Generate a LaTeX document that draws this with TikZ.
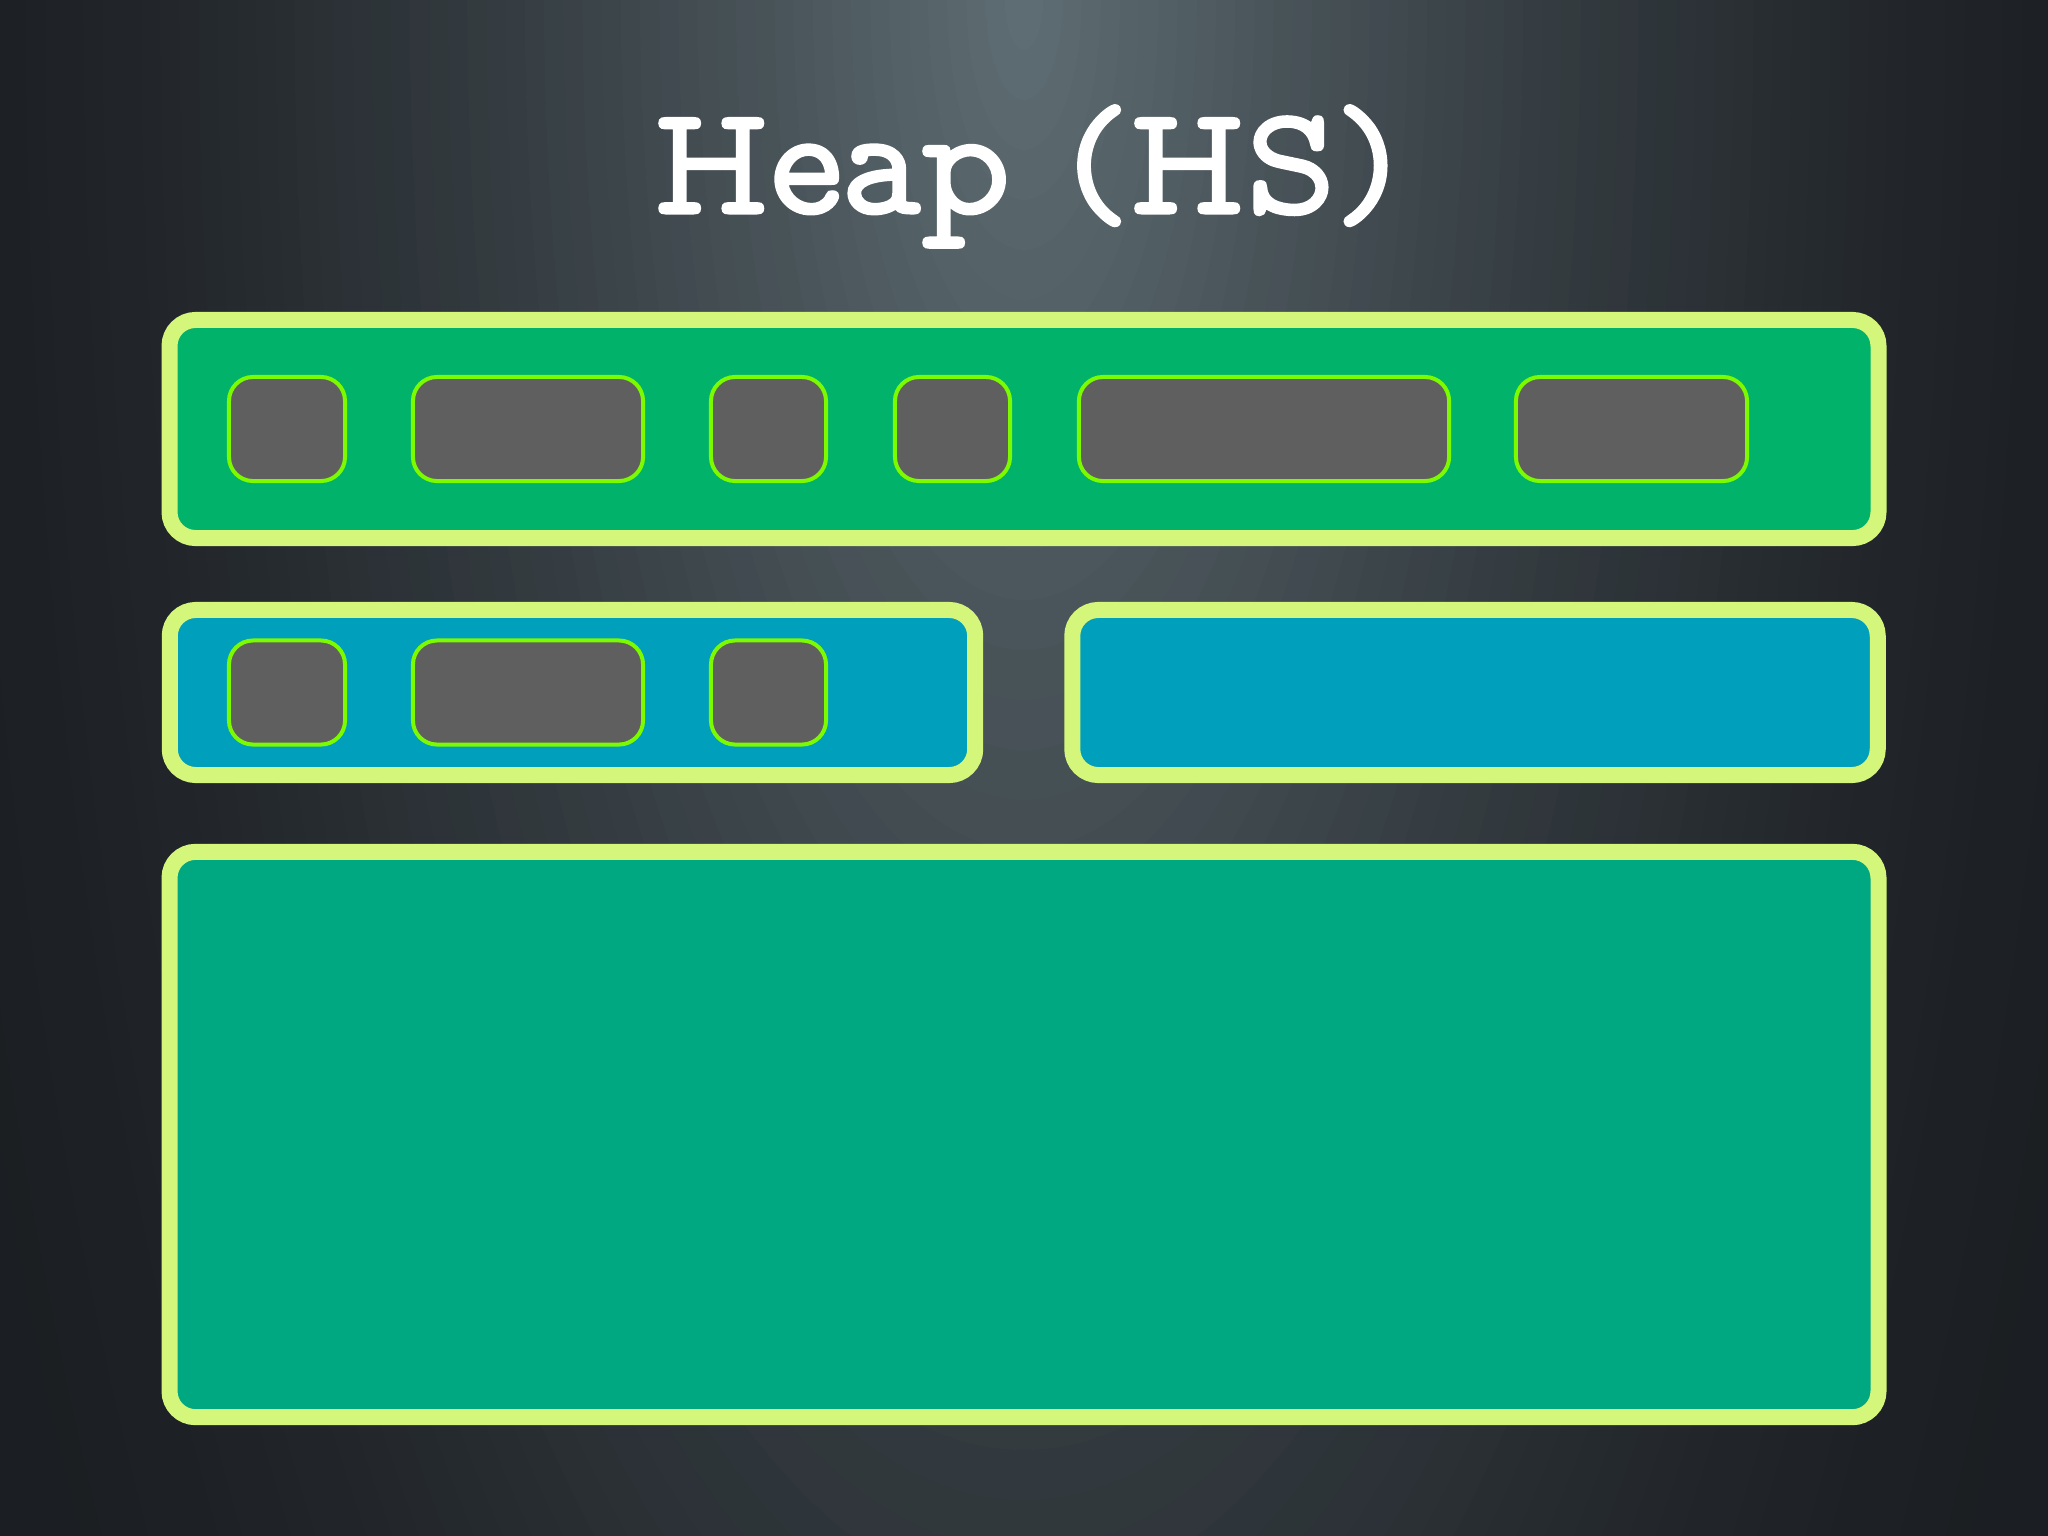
\documentclass[tikz,border=0pt]{standalone}
\usepackage{fontspec}
\usepackage{tikz}
\newfontfamily\headfont{lmmonoprop10-regular.otf}[FakeBold=2]
\definecolor{glow_a}{RGB}{95,110,116}
\definecolor{glow_f}{RGB}{27,30,34}
\definecolor{edge_lime}{RGB}{212,246,122}
\definecolor{edge_green}{RGB}{124,250,0}
\definecolor{node_green}{RGB}{0,178,106}
\definecolor{node_blue}{RGB}{0,159,187}
\definecolor{node_teal}{RGB}{0,168,130}
\definecolor{node_gray}{RGB}{95,95,95}

\begin{document}
\begin{tikzpicture}[x=0.01cm,y=-0.01cm]
    \tikzstyle{space}=[draw=edge_lime, line width=0.16cm, rounded corners=0.26cm, inner sep=0pt, minimum width=17.08cm]
    \tikzstyle{young}=[style=space, fill=node_green, minimum height=2.18cm]
    \tikzstyle{surv}=[style=space, fill=node_blue, minimum width=8.05cm, minimum height=1.65cm]
    \tikzstyle{old}=[style=space, fill=node_teal, minimum height=5.65cm]
    \tikzstyle{obj}=[draw=edge_green, line width=0.04cm, rounded corners=0.24cm, fill=node_gray, inner sep=0pt, minimum height=1.04cm]

    % background glow
    \useasboundingbox (0,0) rectangle (2048,1536);
    \fill[glow_f] (0,0) rectangle (2048,1536);
    \begin{scope}
      \clip (0,0) rectangle (2048,1536);
      \foreach \k in {60,59,...,1} {
        \pgfmathsetmacro\p{100*(1-(\k-0.5)/60)^1.6}
        \fill[glow_a!\p!glow_f] (1024,0) ellipse ({19.2*\k} and {50*\k});
      }
    \end{scope}

    \node[text=white, anchor=base, font=\headfont\fontsize{44}{50}\selectfont] (title) at (1026,213) {Heap (HS)};

    \node[young] (eden) at (1024,429)   {};
    \node[surv]  (s0)   at (572.5,692.5) {};
    \node[surv]  (s1)   at (1475,692.5) {};
    \node[old]   (tenured) at (1024,1134.5) {};

    % objects in eden
    \node[obj, minimum width=1.16cm] (e1) at (287,429)    {};
    \node[obj, minimum width=2.30cm] (e2) at (528,429)    {};
    \node[obj, minimum width=1.15cm] (e3) at (768.5,429)  {};
    \node[obj, minimum width=1.15cm] (e4) at (952.5,429)  {};
    \node[obj, minimum width=3.70cm] (e5) at (1264,429)   {};
    \node[obj, minimum width=2.31cm] (e6) at (1631.5,429) {};

    % objects in s0
    \node[obj, minimum width=1.16cm] (f1) at (287,692.5)   {};
    \node[obj, minimum width=2.30cm] (f2) at (528,692.5)   {};
    \node[obj, minimum width=1.15cm] (f3) at (768.5,692.5) {};
\end{tikzpicture}
\end{document}
